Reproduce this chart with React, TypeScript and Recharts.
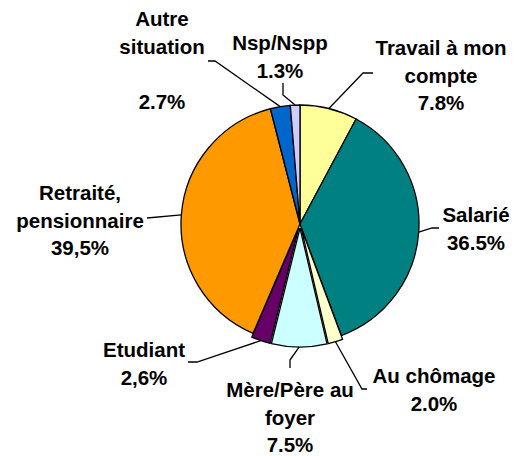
import { PieChart, Pie, Cell } from 'recharts'

// Situation professionnelle (%), clockwise from 12 o'clock
const categories = [
  'Travail à mon compte',
  'Salarié',
  'Au chômage',
  'Mère/Père au foyer',
  'Etudiant',
  'Retraité, pensionnaire',
  'Autre situation',
  'Nsp/Nspp',
]
const shares = [7.8, 36.5, 2.0, 7.5, 2.6, 39.5, 2.7, 1.3]
const shareLabels = ['7.8%', '36.5%', '2.0%', '7.5%', '2,6%', '39,5%', '2.7%', '1.3%']
const labelLines = [
  ['Travail à mon', 'compte'],
  ['Salarié'],
  ['Au chômage'],
  ['Mère/Père au', 'foyer'],
  ['Etudiant'],
  ['Retraité,', 'pensionnaire'],
  ['Autre', 'situation', ''],
  ['Nsp/Nspp'],
]
const colors = ['#FFFF99', '#008080', '#FFFFCC', '#CCFFFF', '#660066', '#FF9900', '#0066CC', '#CCCCFF']
const exploded = [false, false, true, true, true, false, false, false]

// label placement relative to the pie centre: text anchor, elbow and end of leader line
const labelLayout = [
  { tx: 141, ty: -169, ex: 63, ey: -151, lx: 73, ly: -151 },
  { tx: 176, ty: -2, ex: 132, ey: 4, lx: 139, ly: 4 },
  { tx: 134, ty: 159, ex: 62, ey: 165, lx: 67, ly: 165 },
  { tx: -10, ty: 173, ex: -10, ey: 136, lx: -10, ly: 144 },
  { tx: -156, ty: 133, ex: -103, ey: 138, lx: -112, ly: 138 },
  { tx: -220, ty: -24, ex: -153, ey: -6, lx: -153, ly: -6 },
  { tx: -138, ty: -198, ex: -85, ey: -163, lx: -92, ly: -163 },
  { tx: -20, ty: -174, ex: -17, ey: -129, lx: -17, ly: -141 },
]

const EXPLODE = 4
const LINE_H = 27.5
const FONT = 'Arial, "Liberation Sans", sans-serif'
const RAD = Math.PI / 180

const data = categories.map((name, i) => ({ name, value: shares[i] }))

const total = shares.reduce((a, b) => a + b, 0)
const midAngles = shares.map((v, i) => {
  const before = shares.slice(0, i).reduce((a, b) => a + b, 0)
  return 90 - (360 * (before + v / 2)) / total
})

function renderLabel(props: any) {
  const { cx, cy, midAngle, outerRadius, index } = props
  const lay = labelLayout[index]
  const r = outerRadius + (exploded[index] ? EXPLODE : 0)
  const sx = cx + r * Math.cos(-midAngle * RAD)
  const sy = cy + r * Math.sin(-midAngle * RAD)
  const lines = [...labelLines[index], shareLabels[index]]
  return (
    <g key={`lbl-${index}`}>
      <polyline
        points={`${sx},${sy} ${cx + lay.ex},${cy + lay.ey} ${cx + lay.lx},${cy + lay.ly}`}
        fill="none"
        stroke="#000"
        strokeWidth={1.3}
      />
      <text
        x={cx + lay.tx}
        y={cy + lay.ty}
        textAnchor="middle"
        fontFamily={FONT}
        fontWeight="bold"
        fontSize={20.5}
        fill="#000"
      >
        {lines.map((t, j) => (
          <tspan key={j} x={cx + lay.tx} y={cy + lay.ty + j * LINE_H}>
            {t}
          </tspan>
        ))}
      </text>
    </g>
  )
}

export default function App() {
  return (
    <div style={{ position: 'absolute', top: 0, left: 0, width: 516, height: 456, background: '#fff' }}>
      <PieChart width={516} height={456} margin={{ top: 0, right: 0, bottom: 0, left: 0 }}>
        <Pie
          data={data}
          dataKey="value"
          nameKey="name"
          cx={300}
          cy={224}
          outerRadius={119}
          startAngle={90}
          endAngle={-270}
          stroke="#000"
          strokeWidth={1.3}
          label={renderLabel}
          labelLine={false}
          isAnimationActive={false}
        >
          {data.map((d, i) => {
            const dx = exploded[i] ? EXPLODE * Math.cos(midAngles[i] * RAD) : 0
            const dy = exploded[i] ? -EXPLODE * Math.sin(midAngles[i] * RAD) : 0
            return <Cell key={d.name} fill={colors[i]} transform={`translate(${dx},${dy})`} />
          })}
        </Pie>
      </PieChart>
    </div>
  )
}
